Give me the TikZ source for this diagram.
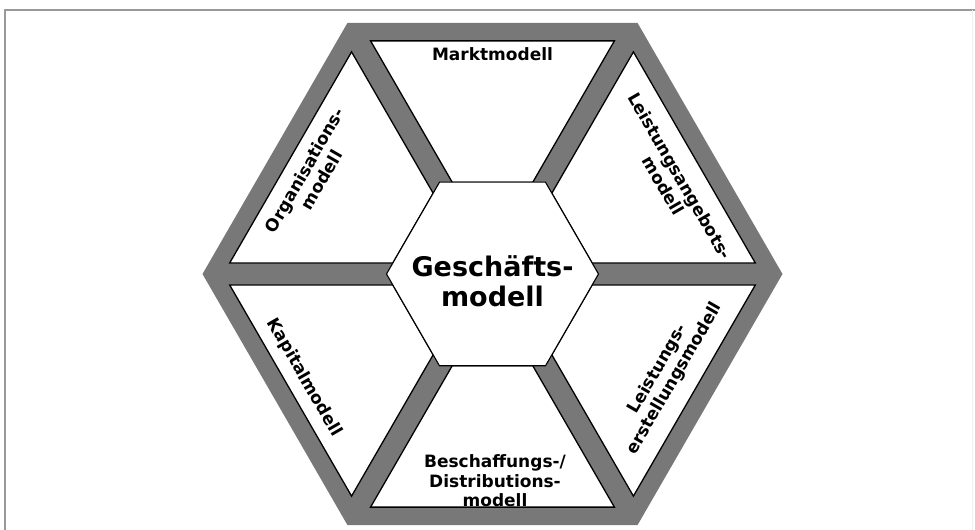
\documentclass[tikz,border=0pt]{standalone}
\usepackage{fontspec}
\setmainfont{DejaVu Sans}
\usepackage{tikz}
\definecolor{bandgray}{RGB}{120,120,120}
\tikzset{
  sector/.style={fill=white,draw=black,line width=1.3pt,line join=miter},
  lbl/.style={font=\fontsize{17}{19.5}\selectfont\bfseries,align=center,inner sep=0pt},
}
\begin{document}
\begin{tikzpicture}[x=1pt,y=1pt]
\useasboundingbox (-492.5,-256) rectangle (482.5,274);
\draw[gray!80,line width=2pt] (-487.5,-256) -- (-487.5,264) -- (482.5,264);
\draw[gray!12] (479.5,264) -- (479.5,-256);
\fill[bandgray] (0:290) \foreach \a in {60,120,...,300} {-- (\a:290)} -- cycle;
\foreach \a in {30,90,...,330}
  \filldraw[sector,rotate=\a-90] (-121.9,233.1) -- (121.9,233.1) -- (40.3,91.8) -- (-40.3,91.8) -- cycle;
\filldraw[sector,line width=1.1pt] (0:106) \foreach \a in {60,120,...,300} {-- (\a:106)} -- cycle;
\node[lbl,font=\fontsize{27}{30}\selectfont\bfseries] (kern) at (0,-7) {Geschäfts-\\modell};
\node[lbl] (markt) at (90:220) {Marktmodell};
\node[lbl,rotate=-60] (angebot) at (27.5:202) {Leistungsangebots-\\modell};
\node[lbl,rotate=60] (orga) at (151.1:205) {Organisations-\\modell};
\node[lbl,rotate=-60] (kapital) at (208.8:215) {Kapitalmodell};
\node[lbl,rotate=60] (erstellung) at (-29.9:200.5) {Leistungs-\\erstellungsmodell};
\node[lbl] (beschaffung) at (2.5,-207) {Beschaffungs-/\\Distributions-\\modell};
\end{tikzpicture}
\end{document}
